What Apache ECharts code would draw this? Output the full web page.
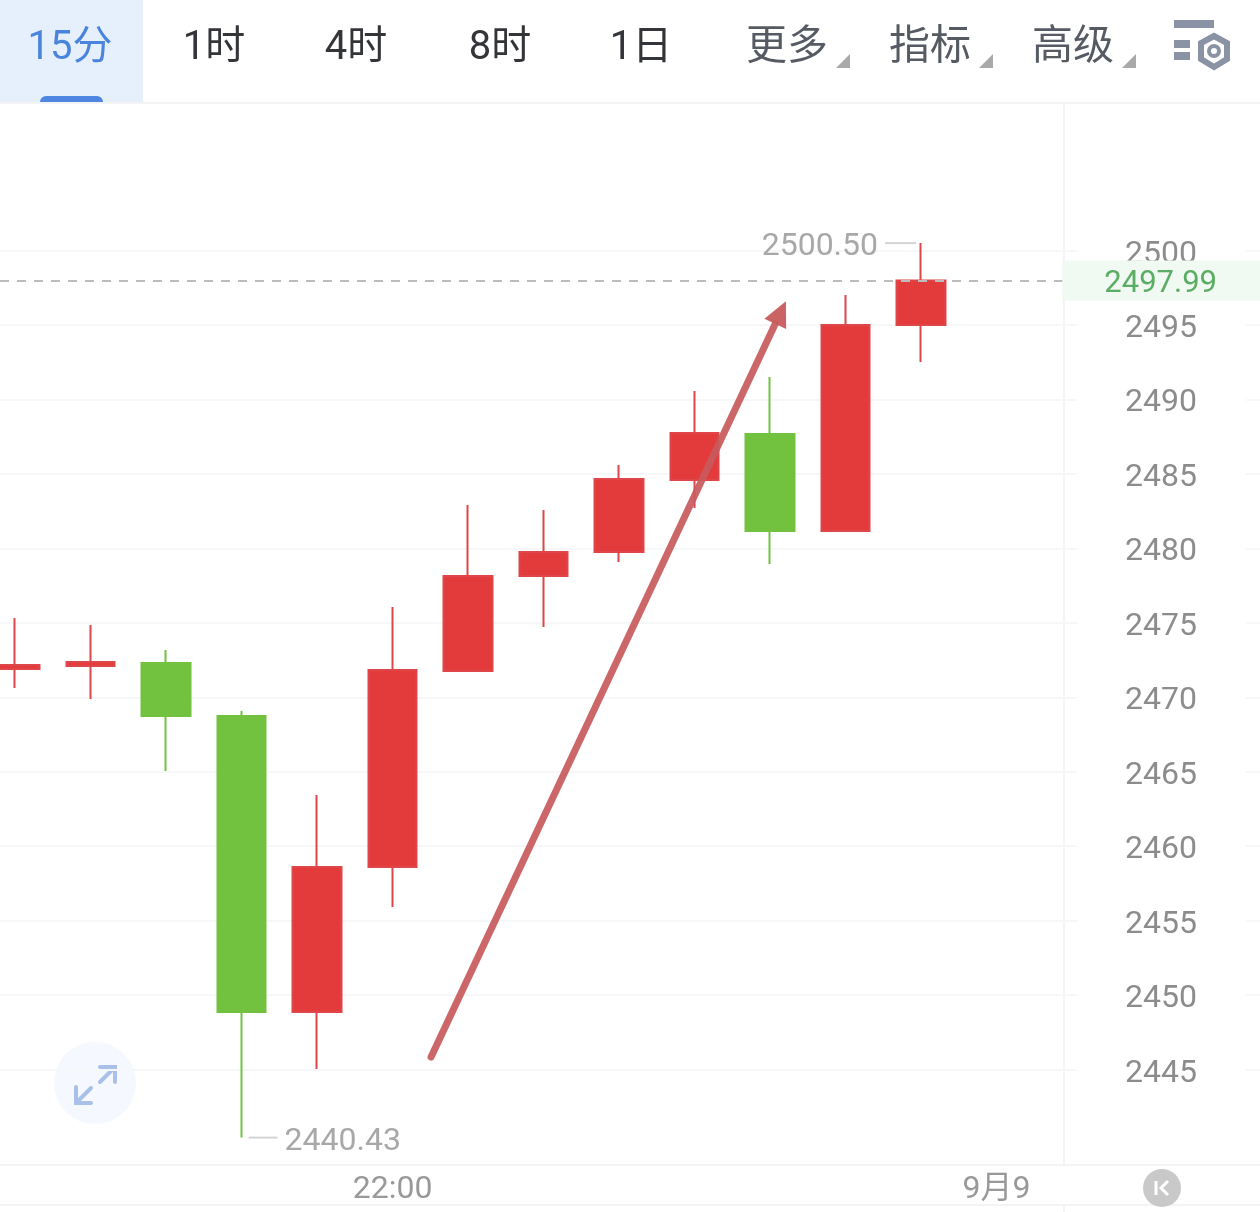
<!DOCTYPE html>
<html><head><meta charset="utf-8">
<style>html,body{margin:0;padding:0;background:#fff}#c{width:1260px;height:1212px}</style>
<script src="https://cdn.jsdelivr.net/npm/echarts@6/dist/echarts.min.js"></script>
</head><body><div id="c"></div>
<script>
// x tick labels, keyed by candle index
const timeTickIndex = [5, 13];
const timeTickLabels = ['22:00', '9月9'];
// [open, close, low, high]
const candle0  = [2471.90, 2472.17, 2470.62, 2475.32];
const candle1  = [2472.10, 2472.37, 2469.88, 2474.85];
const candle2  = [2472.30, 2468.74, 2465.05, 2473.17];
const candle3  = [2468.74, 2448.86, 2440.43, 2469.08];
const candle4  = [2448.86, 2458.60, 2445.03, 2463.44];
const candle5  = [2458.60, 2471.83, 2455.91, 2476.06];
const candle6  = [2471.76, 2478.14, 2471.76, 2482.91];
const candle7  = [2478.14, 2479.75, 2474.72, 2482.58];
const candle8  = [2479.75, 2484.66, 2479.08, 2485.60];
const candle9  = [2484.59, 2487.75, 2482.71, 2490.57];
const candle10 = [2487.68, 2481.17, 2478.95, 2491.51];
const candle11 = [2481.17, 2495.00, 2481.17, 2497.01];
const candle12 = [2495.00, 2497.99, 2492.52, 2500.50];
const candles = [candle0, candle1, candle2, candle3, candle4, candle5, candle6, candle7, candle8, candle9, candle10, candle11, candle12];
const priceTicks = [2445, 2450, 2455, 2460, 2465, 2470, 2475, 2480, 2485, 2490, 2495, 2500];
const lastPrice = 2497.99;
const highPoint = [12, 2500.50];
const lowPoint = [3, 2440.43];
const arrowStart = [5.51, 2445.84];
const arrowEnd = [10.21, 2496.6];
const tabLabels = ['15分', '1时', '4时', '8时', '1日', '更多', '指标', '高级'];

const FONT = 'Roboto, "Noto Sans CJK SC", sans-serif';
const tabX = [70, 214, 356, 500, 641, 787, 930, 1073];
const tabColor = ['#4a84dc', '#333538', '#333538', '#333538', '#333538', '#555a63', '#555a63', '#555a63'];
const tabSize = [40, 40, 40, 40, 40, 41, 41, 41];
const LINE = '#f3f4f6';

const chrome = [
  {type:'rect', shape:{x:0,y:0,width:143,height:103}, style:{fill:'#e6f0fd'}},
  {type:'rect', shape:{x:40,y:96,width:63,height:7,r:[6,6,0,0]}, style:{fill:'#4f86e0'}},
  {type:'line', shape:{x1:0,y1:103,x2:1260,y2:103}, style:{stroke:LINE,lineWidth:2}},
  {type:'line', shape:{x1:1064,y1:103,x2:1064,y2:1165}, style:{stroke:LINE,lineWidth:2}},
  {type:'line', shape:{x1:1064,y1:1205,x2:1064,y2:1212}, style:{stroke:LINE,lineWidth:2}},
  {type:'line', shape:{x1:0,y1:1205,x2:1260,y2:1205}, style:{stroke:LINE,lineWidth:2}},
  // toolbar corner triangles
  ...[850, 993, 1136].map(r => ({type:'polygon', shape:{points:[[r,54],[r,68],[r-14,68]]}, style:{fill:'#a9a9a9'}})),
  // settings icon
  {type:'rect', shape:{x:1174,y:20,width:40,height:8}, style:{fill:'#8a93a3'}},
  {type:'rect', shape:{x:1174,y:40,width:16,height:8}, style:{fill:'#8a93a3'}},
  {type:'rect', shape:{x:1174,y:52,width:16,height:8}, style:{fill:'#8a93a3'}},
  {type:'polygon', shape:{points:[[1214,36],[1227,43],[1227,59],[1214,67],[1201,59],[1201,43]]}, style:{fill:'none',stroke:'#8a93a3',lineWidth:6}},
  {type:'circle', shape:{cx:1214,cy:51,r:5}, style:{fill:'none',stroke:'#8a93a3',lineWidth:4}},
  // expand button
  {type:'circle', shape:{cx:95,cy:1083,r:41}, style:{fill:'#f5f8fe'}},
  {type:'polyline', shape:{points:[[100,1067],[115,1067],[115,1082]]}, style:{fill:'none',stroke:'#a9c0e8',lineWidth:4,lineCap:'round'}},
  {type:'line', shape:{x1:114,y1:1068,x2:100,y2:1082}, style:{stroke:'#a9c0e8',lineWidth:4,lineCap:'round'}},
  {type:'polyline', shape:{points:[[76,1087],[76,1103],[91,1103]]}, style:{fill:'none',stroke:'#a9c0e8',lineWidth:4,lineCap:'round'}},
  {type:'line', shape:{x1:77,y1:1102,x2:91,y2:1088}, style:{stroke:'#a9c0e8',lineWidth:4,lineCap:'round'}},
  // K button
  {type:'circle', shape:{cx:1162,cy:1188,r:19}, style:{fill:'#c9c9c9'}},
  {type:'line', shape:{x1:1156,y1:1181,x2:1156,y2:1195}, style:{stroke:'#fff',lineWidth:3}},
  {type:'polyline', shape:{points:[[1168,1181],[1161,1188],[1168,1195]]}, style:{fill:'none',stroke:'#fff',lineWidth:3}},
  ...tabLabels.map((t, i) => ({type:'text', style:{text:t, x:tabX[i], y:49, fill:tabColor[i], font:tabSize[i] + 'px ' + FONT, textAlign:'center', textVerticalAlign:'middle'}}))
];

function renderExtreme(params, api) {
  const isHigh = params.dataIndex === 0;
  const p = api.coord([api.value(0), api.value(1)]);
  const lineColor = '#d4d4d4', textColor = '#a8a8a8';
  return {type:'group', children:[
    {type:'line', shape: isHigh ? {x1:p[0]-36,y1:p[1],x2:p[0]-5,y2:p[1]} : {x1:p[0]+7,y1:p[1],x2:p[0]+36,y2:p[1]}, style:{stroke:lineColor,lineWidth:2}},
    {type:'text', style:{text:api.value(1).toFixed(2), x: isHigh ? p[0]-43 : p[0]+43, y:p[1]+4, fill:textColor, font:'32px ' + FONT, textAlign: isHigh ? 'right' : 'left', textVerticalAlign:'middle'}}
  ]};
}
function renderArrow(params, api) {
  const a = api.coord(arrowStart), b = api.coord(arrowEnd);
  const dx = b[0]-a[0], dy = b[1]-a[1], L = Math.hypot(dx, dy), ux = dx/L, uy = dy/L, nx = -uy, ny = ux;
  const hl = 25, hw = 12, c = '#c85a5c';
  const neck = [b[0]-ux*hl, b[1]-uy*hl];
  return {type:'group', children:[
    {type:'line', shape:{x1:a[0],y1:a[1],x2:neck[0],y2:neck[1]}, style:{stroke:c,lineWidth:7,lineCap:'round',opacity:0.92}},
    {type:'polygon', shape:{points:[b,[neck[0]+nx*hw,neck[1]+ny*hw],[neck[0]-nx*hw,neck[1]-ny*hw]]}, style:{fill:c,opacity:0.95}}
  ]};
}

const chart = echarts.init(document.getElementById('c'), null, {renderer:'canvas'});
chart.setOption({
  animation:false,
  backgroundColor:'#fff',
  graphic:{elements:chrome},
  grid:{left:0, right:0, top:103, bottom:47, containLabel:false},
  xAxis:{type:'value', min:-0.2, max:16.49, scale:true,
    axisLine:{show:true, lineStyle:{color:LINE,width:2}}, axisTick:{show:false, customValues:timeTickIndex}, splitLine:{show:false},
    axisLabel:{customValues:timeTickIndex, formatter:v => timeTickLabels[timeTickIndex.indexOf(v)] || '', color:'#999', fontSize:32, fontFamily:FONT, margin:9, hideOverlap:false}},
  yAxis:{type:'value', position:'right', min:2438.59, max:2509.91, scale:true,
    axisLine:{show:false},
    axisTick:{show:false, customValues:priceTicks},
    splitLine:{show:true, lineStyle:{color:'#f6f7f9',width:2}},
    axisLabel:{inside:true, customValues:priceTicks, formatter:v => '{p|' + v + '}', margin:14,
      backgroundColor:'#fff', padding:[0,49,0,48],
      rich:{p:{color:'#8c8c8c', fontSize:32, fontFamily:FONT, lineHeight:32, padding:[8,0,0,0]}}}},
  series:[
    {type:'candlestick', data:candles.map((c, i) => [i, c[0], c[1], c[2], c[3]]), barWidth:49,
     itemStyle:{color:'#e33b3b', color0:'#72c13f', borderColor:'#de4649', borderColor0:'#72c13f', borderWidth:2},
     markLine:{silent:true, symbol:'none', animation:false,
       lineStyle:{type:[9,8], color:'#bcbcbc', width:2},
       label:{show:true, position:'insideEnd', distance:0, formatter:() => '{v|' + lastPrice.toFixed(2) + '}',
         backgroundColor:'#f0f9f2', padding:[4,43,4,42],
         rich:{v:{color:'#5aad62', fontSize:31, fontFamily:FONT, lineHeight:32, padding:[8,0,0,0]}}},
       data:[{yAxis:lastPrice}]}},
    {type:'custom', clip:false, z:5, silent:true, data:[highPoint, lowPoint], renderItem:renderExtreme},
    {type:'custom', clip:false, z:6, silent:true, data:[arrowEnd], renderItem:renderArrow}
  ]
});
</script></body></html>
